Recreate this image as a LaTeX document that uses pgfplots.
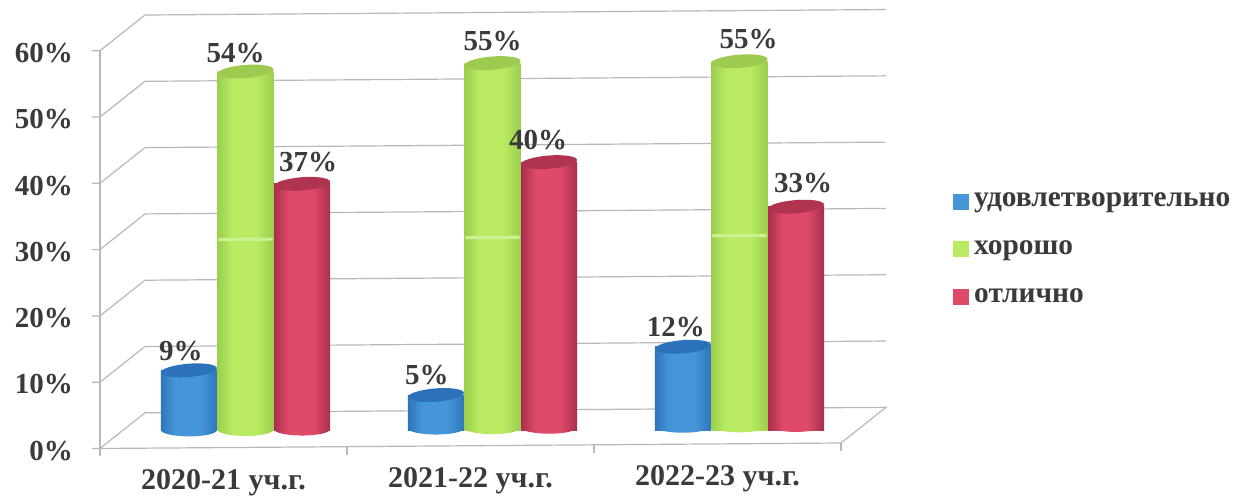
\documentclass[border=0pt]{standalone}
\usepackage{pgfplots}
\pgfplotsset{compat=1.18}
\usepackage{fontspec}
\setmainfont{Liberation Serif}
\definecolor{txt}{HTML}{3A3A3A}
\definecolor{gridc}{HTML}{B8B8B8}
\definecolor{be}{HTML}{2E76BC}\definecolor{bm}{HTML}{4596D8}\definecolor{bc}{HTML}{2C72BA}
\definecolor{ge}{HTML}{9CCF4E}\definecolor{gm}{HTML}{B8EA62}\definecolor{gc}{HTML}{9CCB50}
\definecolor{re}{HTML}{A82F4C}\definecolor{rm}{HTML}{DE4A68}\definecolor{rc}{HTML}{B03450}
\pgfdeclarehorizontalshading{cylb}{100bp}{color(0bp)=(be); color(25bp)=(be); color(38bp)=(bm); color(60bp)=(bm); color(75bp)=(be); color(100bp)=(be)}
\pgfdeclarehorizontalshading{cylg}{100bp}{color(0bp)=(ge); color(25bp)=(ge); color(38bp)=(gm); color(60bp)=(gm); color(75bp)=(ge); color(100bp)=(ge)}
\pgfdeclarehorizontalshading{cylr}{100bp}{color(0bp)=(re); color(25bp)=(re); color(38bp)=(rm); color(60bp)=(rm); color(75bp)=(re); color(100bp)=(re)}
\newcommand{\capell}{\pgfpathellipse{\pgfpointorigin}{\pgfpoint{14pt}{1.1pt}}{\pgfpoint{-0.25pt}{3.3pt}}}
\newcommand{\basepath}[1]{\path[shading=#1, draw=none, rotate=2] (-14pt,0pt) arc[start angle=180, end angle=360, x radius=14pt, y radius=3.2pt] -- cycle;}
\pgfdeclareplotmark{baseb}{\basepath{cylb}}
\pgfdeclareplotmark{baseg}{\basepath{cylg}}
\pgfdeclareplotmark{baser}{\basepath{cylr}}
\pgfdeclareplotmark{topcap}{\capell\pgfusepathqfill}
\pgfplotsset{
  skewaxes/.style={x={(123.5pt,0.915pt)}, y={(0pt,3.315pt)}, xmin=0, xmax=3, ymin=0, ymax=60, clip=false, anchor=origin},
  bar3/.style={ybar, bar shift=0pt, bar width=28pt, draw=none, shading=#1, forget plot},
  dot/.style={only marks, forget plot},
  wall/.style={gridc, line width=0.6pt, forget plot},
}
\newcommand{\cyl}[5]{% x, value, base mark, shading, cap colour
  \addplot[dot, mark=#3, mark options={draw=none}] coordinates {(#1,0)};
  \addplot[bar3=#4] coordinates {(#1,#2)};
  \addplot[dot, mark=topcap, mark options={fill=#5, draw=none}] coordinates {(#1,#2)};
}
\begin{document}
\begin{tikzpicture}[font=\bfseries\fontsize{14.5}{16}\selectfont]
\path[use as bounding box] (0,0) rectangle (618.5pt,248pt);
\begin{axis}[skewaxes, at={(50pt,23.75pt)},
  axis lines=left, axis line style={gridc, line width=0.6pt, -},
  tick style={gridc, line width=0.6pt}, tick align=outside, major tick length=4pt,
  ytick={0,10,20,30,40,50,60},
  yticklabel={\pgfmathprintnumber{\tick}\%},
  yticklabel style={/pgf/number format/assume math mode=true, text=txt, font=\bfseries\fontsize{14.5}{16}\selectfont, xshift=-6pt, yshift=-1pt},
  xtick={0,1,2,3}, xticklabels={},
  extra x ticks={0.5,1.5,2.5},
  extra x tick labels={2020-21 уч.г.,2021-22 уч.г.,2022-23 уч.г.},
  extra x tick style={major tick length=0pt, xticklabel style={text=txt, font=\bfseries\fontsize{15}{16}\selectfont, yshift=-7.5pt}},
]
\addplot[wall] coordinates {(0,0) (0.182,5.33) (3.182,5.33) (3,0)};
\addplot[wall] coordinates {(0,10) (0.182,15.33) (3.182,15.33)};
\addplot[wall] coordinates {(0,20) (0.182,25.33) (3.182,25.33)};
\addplot[wall] coordinates {(0,30) (0.182,35.33) (3.182,35.33)};
\addplot[wall] coordinates {(0,40) (0.182,45.33) (3.182,45.33)};
\addplot[wall] coordinates {(0,50) (0.182,55.33) (3.182,55.33)};
\addplot[wall] coordinates {(0,60) (0.182,65.33) (3.182,65.33)};
\end{axis}
\begin{axis}[skewaxes, at={(61pt,32.75pt)}, hide axis,
  legend cell align=left,
  legend style={at={(axis cs:3.364,35)}, anchor=north west, draw=none, fill=none, inner sep=0pt, row sep=15.5pt,
    font=\bfseries\fontsize{14.7}{16}\selectfont, text=txt,
    nodes={inner sep=0pt, anchor=base west}},
  legend image code/.code={\fill[#1] (0pt,-1.5pt) rectangle (8pt,6.5pt);},
]
\addlegendimage{fill=bm, draw=none}\addlegendentry{\,удовлетворительно}
\addlegendimage{fill=gm, draw=none}\addlegendentry{\,хорошо}
\addlegendimage{fill=rm, draw=none}\addlegendentry{\,отлично}
\cyl{0.271}{9}{baseb}{cylb}{bc}
\cyl{0.5}{54}{baseg}{cylg}{gc}
\cyl{0.729}{37}{baser}{cylr}{rc}
\cyl{1.271}{5}{baseb}{cylb}{bc}
\cyl{1.5}{55}{baseg}{cylg}{gc}
\cyl{1.729}{40}{baser}{cylr}{rc}
\cyl{2.271}{12}{baseb}{cylb}{bc}
\cyl{2.5}{55}{baseg}{cylg}{gc}
\cyl{2.729}{33}{baser}{cylr}{rc}
% scan seam
\addplot[draw=gm!70!white, line width=1.6pt, forget plot] coordinates {(0.39,28.7) (0.61,28.7)};
\addplot[draw=gm!70!white, line width=1.6pt, forget plot] coordinates {(1.39,28.7) (1.61,28.7)};
\addplot[draw=gm!70!white, line width=1.6pt, forget plot] coordinates {(2.39,28.7) (2.61,28.7)};
% value labels
\tikzset{vl/.style={text=txt, inner sep=0pt}}
\node[vl, xshift=-4pt, yshift=9.5pt] at (axis cs:0.271,9) {9\%};
\node[vl, xshift=-5pt, yshift=9.5pt] at (axis cs:0.5,54) {54\%};
\node[vl, xshift=3pt, yshift=11pt] at (axis cs:0.729,37) {37\%};
\node[vl, xshift=-4.5pt, yshift=10pt] at (axis cs:1.271,5) {5\%};
\node[vl, xshift=0pt, yshift=11pt] at (axis cs:1.5,55) {55\%};
\node[vl, xshift=-5.5pt, yshift=11pt] at (axis cs:1.729,40) {40\%};
\node[vl, xshift=-3.5pt, yshift=10pt] at (axis cs:2.271,12) {12\%};
\node[vl, xshift=4.5pt, yshift=11pt] at (axis cs:2.5,55) {55\%};
\node[vl, xshift=3.5pt, yshift=12pt] at (axis cs:2.729,33) {33\%};
\end{axis}
\end{tikzpicture}
\end{document}
